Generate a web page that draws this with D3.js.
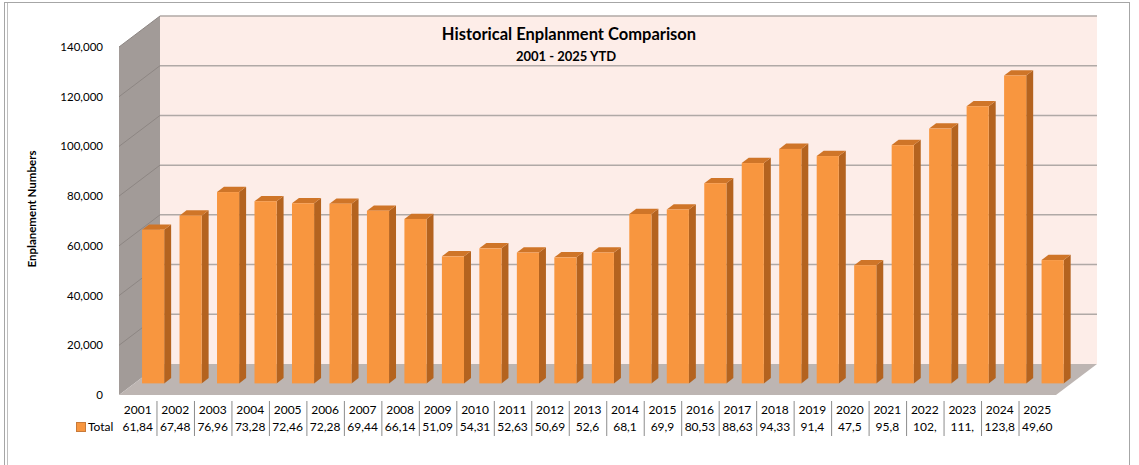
<!DOCTYPE html>
<html>
<head>
<meta charset="utf-8">
<script src="https://cdn.jsdelivr.net/npm/d3@7"></script>
<style>
    body { margin: 0; background: #fff; }
    svg { display: block; font-family: Lato, 'Open Sans', sans-serif; }
</style>
</head>
<body>
<div id="chart"></div>
<script>
const years = ['2001', '2002', '2003', '2004', '2005', '2006', '2007', '2008', '2009', '2010',
    '2011', '2012', '2013', '2014', '2015', '2016', '2017', '2018', '2019', '2020',
    '2021', '2022', '2023', '2024', '2025'];
const totals = [61845, 67485, 76965, 73285, 72465, 72285, 69445, 66145, 51095, 54315,
    52635, 50695, 52650, 68150, 69950, 80535, 88635, 94335, 91450, 47550,
    95850, 102500, 111500, 123850, 49605];
// labels as they show in the data table (cut off by the narrow cells)
const tableLabels = ['61,84', '67,48', '76,96', '73,28', '72,46', '72,28', '69,44', '66,14', '51,09', '54,31',
    '52,63', '50,69', '52,6', '68,1', '69,9', '80,53', '88,63', '94,33', '91,4', '47,5',
    '95,8', '102,', '111,', '123,8', '49,60'];
const yTicks = [0, 20000, 40000, 60000, 80000, 100000, 120000, 140000];

const width = 1139;
const height = 465;

// depth of the 3d box
const depthX = 41;
const depthY = 31;
const barFront = 0.375;
const barBack = 0.545;

const svg = d3.select('#chart')
    .append('svg')
    .attr('width', width)
    .attr('height', height);

// frame
svg.append('rect')
    .attr('x', 4.5).attr('y', 2.5)
    .attr('width', 1125).attr('height', 470)
    .attr('fill', 'none').attr('stroke', '#a6a6a6');
svg.append('line')
    .attr('x1', 7.5).attr('x2', 7.5).attr('y1', 3).attr('y2', height)
    .attr('stroke', '#bfbfbf');

const x = d3.scaleBand().domain(years).range([119, 1056]).padding(0);
const y = d3.scaleLinear().domain([0, 140000]).range([395, 47]);

function proj(px, py, f) {
    return [px + f * depthX, py - f * depthY];
}
function poly(points) {
    return points.map((p) => p.join(',')).join(' ');
}

const x0 = x.range()[0];
const x1 = x.range()[1];
const yTop = y(140000);
const yBase = y(0);

// back wall
svg.append('polygon')
    .attr('points', poly([proj(x0, yTop, 1), proj(x1, yTop, 1), proj(x1, yBase, 1), proj(x0, yBase, 1)]))
    .attr('fill', '#fdede8');

// left wall
svg.append('polygon')
    .attr('points', poly([proj(x0, yTop, 0), proj(x0, yTop, 1), proj(x0, yBase, 1), proj(x0, yBase, 0)]))
    .attr('fill', '#a29b98');

// floor
svg.append('polygon')
    .attr('points', poly([proj(x0, yBase, 0), proj(x0, yBase, 1), proj(x1, yBase, 1), proj(x1, yBase, 0)]))
    .attr('fill', '#bdb5b2');

// gridlines on back wall and left wall
const grid = svg.append('g');
yTicks.filter((t) => t > 0).forEach((t) => {
    const a = proj(x0, y(t), 0);
    const b = proj(x0, y(t), 1);
    const c = proj(x1, y(t), 1);
    grid.append('line')
        .attr('x1', a[0]).attr('y1', a[1]).attr('x2', b[0]).attr('y2', b[1])
        .attr('stroke', '#8d8683').attr('stroke-width', 1);
    grid.append('line')
        .attr('x1', b[0]).attr('y1', b[1]).attr('x2', c[0]).attr('y2', c[1])
        .attr('stroke', '#b0a9a6').attr('stroke-width', 1.5);
});

// bars
const bw = x.bandwidth() * 0.59;
const bars = svg.append('g')
    .selectAll('g')
    .data(years.map((yr, i) => ({ year: yr, value: totals[i] })))
    .join('g');

bars.each(function (d) {
    const g = d3.select(this);
    const l = x(d.year) + (x.bandwidth() - bw) / 2;
    const r = l + bw;
    const top = y(d.value);
    // side
    g.append('polygon')
        .attr('points', poly([proj(r, yBase, barFront), proj(r, yBase, barBack), proj(r, top, barBack), proj(r, top, barFront)]))
        .attr('fill', '#b4631f');
    // top
    g.append('polygon')
        .attr('points', poly([proj(l, top, barFront), proj(r, top, barFront), proj(r, top, barBack), proj(l, top, barBack)]))
        .attr('fill', '#cf7528');
    // front
    const p = proj(l, top, barFront);
    g.append('rect')
        .attr('x', p[0]).attr('y', p[1])
        .attr('width', bw).attr('height', yBase - top)
        .attr('fill', '#f8963f');
});

// y axis labels
svg.append('g')
    .selectAll('text')
    .data(yTicks)
    .join('text')
    .attr('x', 103)
    .attr('y', (d) => y(d))
    .attr('dy', '0.35em')
    .attr('text-anchor', 'end')
    .attr('font-size', 11.5)
    .attr('fill', '#000')
    .text((d) => d3.format(',')(d));

svg.append('text')
    .attr('transform', 'translate(36,209) rotate(-90)')
    .attr('text-anchor', 'middle')
    .attr('font-size', 11.5)
    .attr('font-weight', 'bold')
    .text('Enplanement Numbers');

// title
svg.append('text')
    .attr('x', 569).attr('y', 40)
    .attr('text-anchor', 'middle')
    .attr('font-size', 16.5)
    .attr('font-weight', 'bold')
    .text('Historical Enplanment Comparison');
svg.append('text')
    .attr('x', 566).attr('y', 61)
    .attr('text-anchor', 'middle')
    .attr('font-size', 13)
    .attr('font-weight', 'bold')
    .text('2001 - 2025 YTD');

// data table
const table = svg.append('g');
years.slice(1).forEach((yr) => {
    table.append('line')
        .attr('x1', x(yr) + 0.5).attr('x2', x(yr) + 0.5)
        .attr('y1', 401).attr('y2', 436)
        .attr('stroke', '#8c8c8c');
});
table.selectAll('text.year')
    .data(years)
    .join('text')
    .attr('class', 'year')
    .attr('x', (d) => x(d) + x.bandwidth() / 2)
    .attr('y', 410)
    .attr('dy', '0.35em')
    .attr('text-anchor', 'middle')
    .attr('font-size', 12)
    .text((d) => d);
table.selectAll('text.val')
    .data(tableLabels)
    .join('text')
    .attr('class', 'val')
    .attr('x', (d, i) => x(years[i]) + x.bandwidth() / 2)
    .attr('y', 427)
    .attr('dy', '0.35em')
    .attr('text-anchor', 'middle')
    .attr('font-size', 12)
    .text((d) => d);

table.append('rect')
    .attr('x', 76.5).attr('y', 422.5)
    .attr('width', 9).attr('height', 9)
    .attr('fill', '#f8963f').attr('stroke', '#c87a3a');
table.append('text')
    .attr('x', 88).attr('y', 427)
    .attr('dy', '0.35em')
    .attr('font-size', 12)
    .text('Total');
</script>
</body>
</html>
